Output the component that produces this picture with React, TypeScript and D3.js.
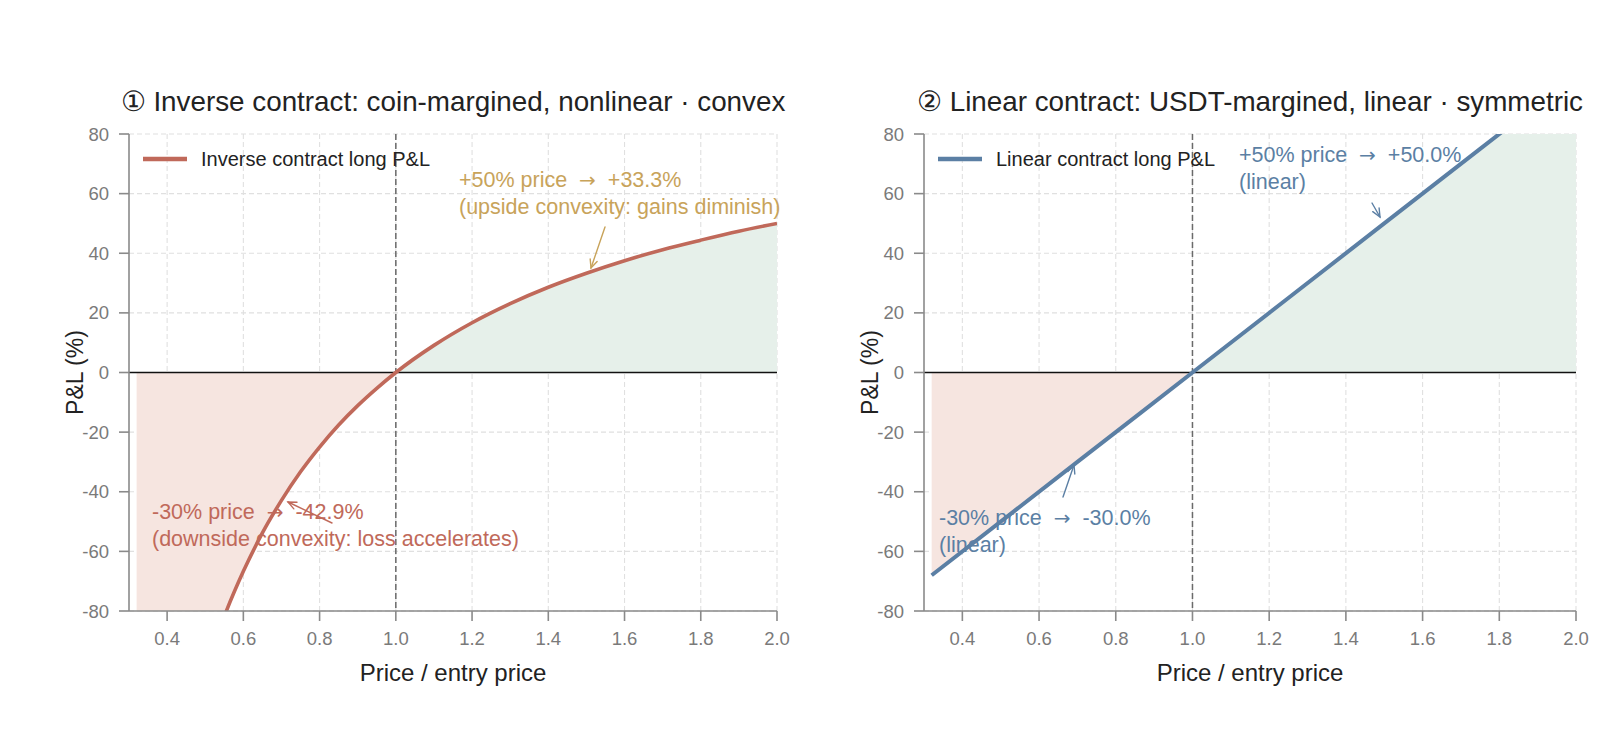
import React from 'react'
import * as d3 from 'd3'

// chart values read off the reference
const priceTicks = [0.4, 0.6, 0.8, 1.0, 1.2, 1.4, 1.6, 1.8, 2.0]
const pnlTicks = [-80, -60, -40, -20, 0, 20, 40, 60, 80]

const inversePrice = [0.32, 0.35, 0.4, 0.45, 0.5, 0.55, 0.6, 0.65, 0.7, 0.75, 0.8, 0.85, 0.9, 0.95, 1.0,
  1.1, 1.2, 1.3, 1.4, 1.5, 1.6, 1.7, 1.8, 1.9, 2.0]
const inversePnl = [-212.5, -185.7, -150, -122.2, -100, -81.8, -66.7, -53.8, -42.9, -33.3, -25, -17.6, -11.1, -5.3, 0,
  9.1, 16.7, 23.1, 28.6, 33.3, 37.5, 41.2, 44.4, 47.4, 50]

const linearPrice = [0.32, 0.7, 1.0, 1.5, 2.0]
const linearPnl = [-68, -30, 0, 50, 100]

const FONT = '"Liberation Sans", Arial, Helvetica, sans-serif'
const RED = '#c0695a'
const BLUE = '#5b7fa4'
const GOLD = '#c8a35a'

type Note = {
  lines: string[]
  color: string
  x: number // text start, px from panel left
  y: number // first baseline
  tail: [number, number]
  head: [number, number]
}

type PanelProps = {
  left: number
  right: number
  title: string
  label: string
  color: string
  xs: number[]
  ys: number[]
  width: number
  notes: Note[]
}

const TOP = 134
const BOTTOM = 611

function Arrow({ tail, head, color }: { tail: [number, number]; head: [number, number]; color: string }) {
  const ang = Math.atan2(head[1] - tail[1], head[0] - tail[0])
  const len = 9
  const spread = 0.42
  const p1 = [head[0] - len * Math.cos(ang - spread), head[1] - len * Math.sin(ang - spread)]
  const p2 = [head[0] - len * Math.cos(ang + spread), head[1] - len * Math.sin(ang + spread)]
  return (
    <g stroke={color} strokeWidth={1.4} fill="none" strokeLinecap="round">
      <line x1={tail[0]} y1={tail[1]} x2={head[0]} y2={head[1]} />
      <polyline points={`${p1[0]},${p1[1]} ${head[0]},${head[1]} ${p2[0]},${p2[1]}`} />
    </g>
  )
}

// the arrow glyph is drawn from DejaVu so it reads like the reference
function NoteLine({ s, x, y, color }: { s: string; x: number; y: number; color: string }) {
  const parts = s.split('→')
  return (
    <text x={x} y={y} fontSize={21.5} fill={color} style={{ whiteSpace: 'pre' }}>
      {parts.length === 1 ? (
        s
      ) : (
        <>
          <tspan>{parts[0].trimEnd() + '  '}</tspan>
          <tspan fontFamily='"DejaVu Sans", sans-serif' fontSize={20}>
            →
          </tspan>
          <tspan>{'  ' + parts[1].trimStart()}</tspan>
        </>
      )}
    </text>
  )
}

function Panel({ left, right, title, label, color, xs, ys, width, notes }: PanelProps) {
  const x = d3.scaleLinear().domain([0.3, 2.0]).range([left, right])
  const y = d3.scaleLinear().domain([-80, 80]).range([BOTTOM, TOP])
  const pts = xs.map((v, i) => [v, ys[i]] as [number, number])
  const loss = pts.filter((d) => d[0] <= 1)
  const gain = pts.filter((d) => d[0] >= 1)

  const line = d3
    .line<[number, number]>()
    .x((d) => x(d[0]))
    .y((d) => y(d[1]))
    .curve(d3.curveMonotoneX)
  const area = d3
    .area<[number, number]>()
    .x((d) => x(d[0]))
    .y0(y(0))
    .y1((d) => y(d[1]))
    .curve(d3.curveMonotoneX)

  const clipId = `clip-${left}`
  const cx = (left + right) / 2
  const tickColor = '#7a7a7a'

  return (
    <g fontFamily={FONT}>
      <defs>
        <clipPath id={clipId}>
          <rect x={left} y={TOP} width={right - left} height={BOTTOM - TOP} />
        </clipPath>
      </defs>

      {/* grid */}
      <g stroke="#e0e0e0" strokeWidth={1.1} strokeDasharray="5,3">
        {priceTicks.map((t) => (
          <line key={'gx' + t} x1={x(t)} x2={x(t)} y1={TOP} y2={BOTTOM} />
        ))}
        {pnlTicks.map((t) => (
          <line key={'gy' + t} x1={left} x2={right} y1={y(t)} y2={y(t)} />
        ))}
      </g>

      <g clipPath={`url(#${clipId})`}>
        <path d={area(loss) || ''} fill="#f6e5e0" />
        <path d={area(gain) || ''} fill="#e6f0ea" />
        <line x1={x(1)} x2={x(1)} y1={TOP} y2={BOTTOM} stroke="#6a6a6a" strokeWidth={1.5} strokeDasharray="6,3" />
        <line x1={left} x2={right} y1={y(0)} y2={y(0)} stroke="#111" strokeWidth={1.5} />
        <path d={line(pts) || ''} fill="none" stroke={color} strokeWidth={width} />
      </g>

      {/* spines and ticks */}
      <g stroke="#8a8a8a" strokeWidth={1.6}>
        <line x1={left} x2={left} y1={TOP} y2={BOTTOM} />
        <line x1={left} x2={right} y1={BOTTOM} y2={BOTTOM} />
        {priceTicks.map((t) => (
          <line key={'tx' + t} x1={x(t)} x2={x(t)} y1={BOTTOM} y2={BOTTOM + 10} />
        ))}
        {pnlTicks.map((t) => (
          <line key={'ty' + t} x1={left - 10} x2={left} y1={y(t)} y2={y(t)} />
        ))}
      </g>
      <g fill={tickColor} fontSize={18.5}>
        {priceTicks.map((t) => (
          <text key={'lx' + t} x={x(t)} y={BOTTOM + 34} textAnchor="middle">
            {d3.format('.1f')(t)}
          </text>
        ))}
        {pnlTicks.map((t) => (
          <text key={'ly' + t} x={left - 20} y={y(t) + 6.5} textAnchor="end">
            {t}
          </text>
        ))}
      </g>

      {/* axis labels and title */}
      <text x={cx} y={681} textAnchor="middle" fontSize={24} fill="#222">
        Price / entry price
      </text>
      <text
        transform={`translate(${left - 46},${(TOP + BOTTOM) / 2}) rotate(-90)`}
        textAnchor="middle"
        fontSize={23}
        fill="#222"
      >
        P&amp;L (%)
      </text>
      <text x={cx} y={111} textAnchor="middle" fontSize={27.8} fill="#222">
        {title}
      </text>

      {/* legend */}
      <line x1={left + 14} x2={left + 58} y1={159} y2={159} stroke={color} strokeWidth={4.5} />
      <text x={left + 72} y={166} fontSize={20} fill="#222">
        {label}
      </text>

      {/* annotations */}
      {notes.map((n, i) => (
        <g key={i}>
          {n.lines.map((s, j) => (
            <NoteLine key={j} s={s} x={left + n.x} y={n.y + j * 26.5} color={n.color} />
          ))}
          <Arrow
            tail={[left + n.tail[0], n.tail[1]]}
            head={[left + n.head[0], n.head[1]]}
            color={n.color}
          />
        </g>
      ))}
    </g>
  )
}

export default function App() {
  return (
    <svg
      width={1600}
      height={744}
      style={{ position: 'absolute', left: 0, top: 0, background: '#fff' }}
    >
      <Panel
        left={129}
        right={777}
        title="① Inverse contract: coin-margined, nonlinear · convex"
        label="Inverse contract long P&L"
        color={RED}
        width={3.6}
        xs={inversePrice}
        ys={inversePnl}
        notes={[
          {
            lines: ['+50% price → +33.3%', '(upside convexity: gains diminish)'],
            color: GOLD,
            x: 330,
            y: 187,
            tail: [476, 227],
            head: [462, 268],
          },
          {
            lines: ['-30% price → -42.9%', '(downside convexity: loss accelerates)'],
            color: RED,
            x: 23,
            y: 519,
            tail: [203, 523],
            head: [159, 502],
          },
        ]}
      />
      <Panel
        left={924}
        right={1576}
        title="② Linear contract: USDT-margined, linear · symmetric"
        label="Linear contract long P&L"
        color={BLUE}
        width={4}
        xs={linearPrice}
        ys={linearPnl}
        notes={[
          {
            lines: ['+50% price → +50.0%', '(linear)'],
            color: BLUE,
            x: 315,
            y: 162,
            tail: [448, 203],
            head: [456, 217],
          },
          {
            lines: ['-30% price → -30.0%', '(linear)'],
            color: BLUE,
            x: 15,
            y: 525,
            tail: [139, 497],
            head: [150, 465],
          },
        ]}
      />
    </svg>
  )
}
